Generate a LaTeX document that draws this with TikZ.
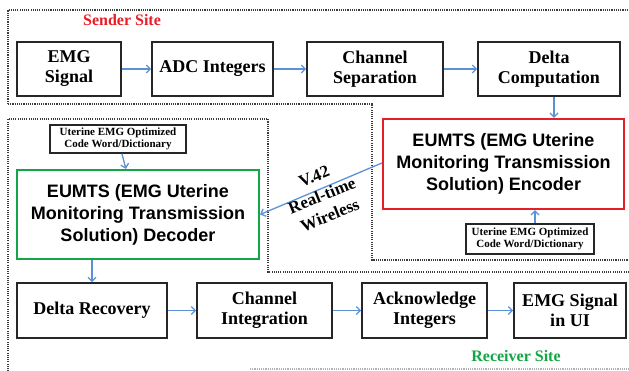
\documentclass[tikz,border=0pt]{standalone}
\usepackage{fontspec}
\setmainfont{Liberation Serif}
\setsansfont{Liberation Sans}
\usetikzlibrary{arrows.meta}
\definecolor{arrblue}{RGB}{91,146,214}
\definecolor{encred}{RGB}{230,30,40}
\definecolor{decgreen}{RGB}{20,165,70}
\definecolor{dotgray}{RGB}{60,60,60}
\tikzset{
  box/.style={draw=black!85, line width=1.6pt, align=center, inner sep=0pt,
    font=\fontsize{18}{20}\selectfont\bfseries, minimum height=54pt},
  codec/.style={line width=2.2pt, align=center, inner sep=0pt,
    font=\fontsize{18}{22}\sffamily\selectfont\bfseries},
  dict/.style={draw=black!85, line width=1.4pt, align=center, inner sep=0pt,
    font=\fontsize{11}{12.5}\selectfont\bfseries},
  arr/.style={draw=arrblue, line width=1.3pt, -{Straight Barb[length=4pt,width=8pt]}},
  border/.style={draw=dotgray, line width=1.3pt, dash pattern=on 1.1pt off 1.1pt},
}
\begin{document}
\begin{tikzpicture}[x=1pt,y=-1pt]
\useasboundingbox (0,0) rectangle (629,371);
% dotted site borders
\draw[border] (8,104) -- (8,10) -- (629,10);
\draw[border] (8,104) -- (372,104) -- (372,260) -- (629,260);
\draw[border] (629,272) -- (268,272) -- (268,119) -- (8,119) -- (8,371);
\draw[border, draw=black!30] (250,369) -- (629,369);
% site labels
\node[text=encred, font=\fontsize{16}{18}\selectfont\bfseries] (sender) at (122,20) {Sender Site};
\node[text=decgreen, font=\fontsize{16}{18}\selectfont\bfseries] (receiver) at (516,356) {Receiver Site};
% sender row
\node[box, minimum width=104pt] (emg) at (69,69) {EMG\\Signal};
\node[box, minimum width=121pt] (adc) at (212.5,69) {ADC Integers};
\node[box, minimum width=136pt] (chs) at (375,69) {Channel\\Separation};
\node[box, minimum width=142pt] (dc) at (549,69) {Delta\\Computation};
% encoder
\node[codec, draw=encred, minimum width=241pt, minimum height=90pt] (enc) at (503.5,164) {EUMTS (EMG Uterine\\Monitoring Transmission\\Solution) Encoder};
\node[dict, minimum width=128pt, minimum height=30pt] (encdict) at (530,239) {Uterine EMG Optimized\\Code Word/Dictionary};
% decoder
\node[dict, minimum width=136pt, minimum height=28pt] (decdict) at (118,139) {Uterine EMG Optimized\\Code Word/Dictionary};
\node[codec, draw=decgreen, minimum width=242pt, minimum height=89pt] (dec) at (138,214.5) {EUMTS (EMG Uterine\\Monitoring Transmission\\Solution) Decoder};
% receiver row
\node[box, minimum width=150pt, minimum height=55pt] (dr) at (92,310.5) {Delta Recovery};
\node[box, minimum width=135pt, minimum height=55pt] (ci) at (264.5,310.5) {Channel\\Integration};
\node[box, minimum width=125pt, minimum height=55pt] (ai) at (424.5,310.5) {Acknowledge\\Integers};
\node[box, minimum width=112pt, minimum height=55pt] (ui) at (570,310.5) {EMG Signal\\in UI};
% arrows
\draw[arr] (emg) -- (adc);
\draw[arr] (adc) -- (chs);
\draw[arr] (chs) -- (dc);
\draw[arr] ([xshift=5pt]dc.south) -- ([xshift=5pt]dc.south |- enc.north);
\draw[arr] ([xshift=5pt]encdict.north) -- ([xshift=5pt]encdict.north |- enc.south);
\draw[arr] ([yshift=1pt]enc.west) -- (dec.east);
\draw[arr] (decdict) -- (dec);
\draw[arr] (dec.south -| dr.north) -- (dr.north);
\draw[arr] (dr) -- (ci);
\draw[arr] (ci) -- (ai);
\draw[arr] (ai) -- (ui);
% link label
\node[rotate=22, align=center, font=\fontsize{17}{21}\selectfont\bfseries] (link) at (322,196) {V.42\\Real-time\\Wireless};
\end{tikzpicture}
\end{document}
